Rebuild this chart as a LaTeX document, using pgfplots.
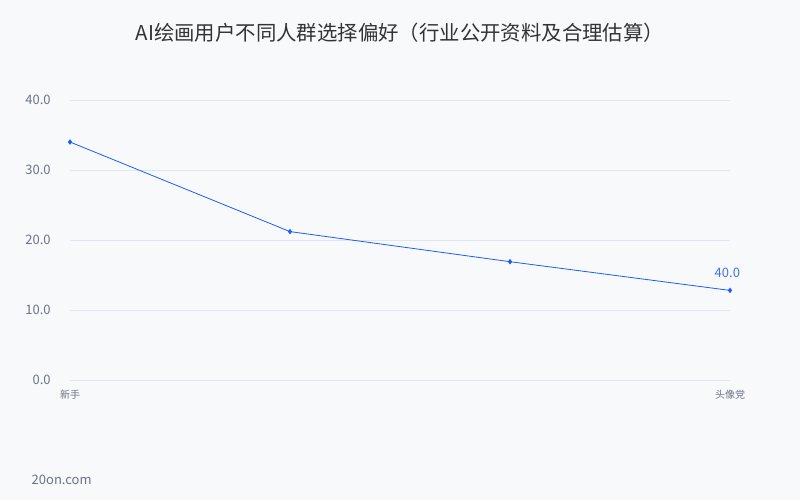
\documentclass[border=0pt]{standalone}
\usepackage{fontspec}
\setmainfont{Noto Sans CJK SC}
\usepackage{pgfplots}
\pgfplotsset{compat=1.18}
\definecolor{bgc}{HTML}{F8F9FB}
\definecolor{gridc}{HTML}{DFE5F2}
\definecolor{linec}{HTML}{1A5CFF}
\definecolor{tickc}{HTML}{6B7385}
\definecolor{titlec}{HTML}{333333}
\definecolor{annc}{HTML}{3F72EE}
\begin{document}
\begin{tikzpicture}[x=0.75pt,y=0.75pt]
\fill[bgc] (0,0) rectangle (800,500);
\node[text=titlec,font=\fontsize{15.3}{18}\selectfont] at (400,467) {AI绘画用户不同人群选择偏好（行业公开资料及合理估算）};
\node[text=tickc,font=\fontsize{9.75}{12}\selectfont,anchor=west] at (27,20) {20on.com};
\begin{axis}[
  at={(52.5pt,90pt)}, anchor=origin,
  scale only axis, width=495pt, height=210pt,
  xmin=0, xmax=3, ymin=0, ymax=40,
  axis line style={draw=none},
  tick style={draw=none},
  xtick={0,3}, xticklabels={新手,头像党},
  ytick={0,10,20,30,40},
  ymajorgrids, grid style={gridc, line width=0.6pt},
  /pgf/number format/assume math mode=true,
  yticklabel={\pgfmathprintnumber[fixed,fixed zerofill,precision=1]{\tick}},
  yticklabel style={text=tickc, font=\fontsize{9.75}{12}\selectfont, anchor=east, xshift=-11pt},
  xticklabel style={text=tickc, font=\fontsize{7.5}{9}\selectfont, yshift=-4pt},
  clip=false,
]
\addplot[linec, line width=0.6pt, mark=diamond*, mark size=1.6pt, mark options={fill=linec}] coordinates {(0,34.0) (1,21.2) (2,16.9) (3,12.8)};
\node[text=annc, font=\fontsize{9.75}{12}\selectfont, anchor=south] at (axis cs:3,12.8) [yshift=6pt, xshift=-2pt] {40.0};
\end{axis}
\end{tikzpicture}
\end{document}
